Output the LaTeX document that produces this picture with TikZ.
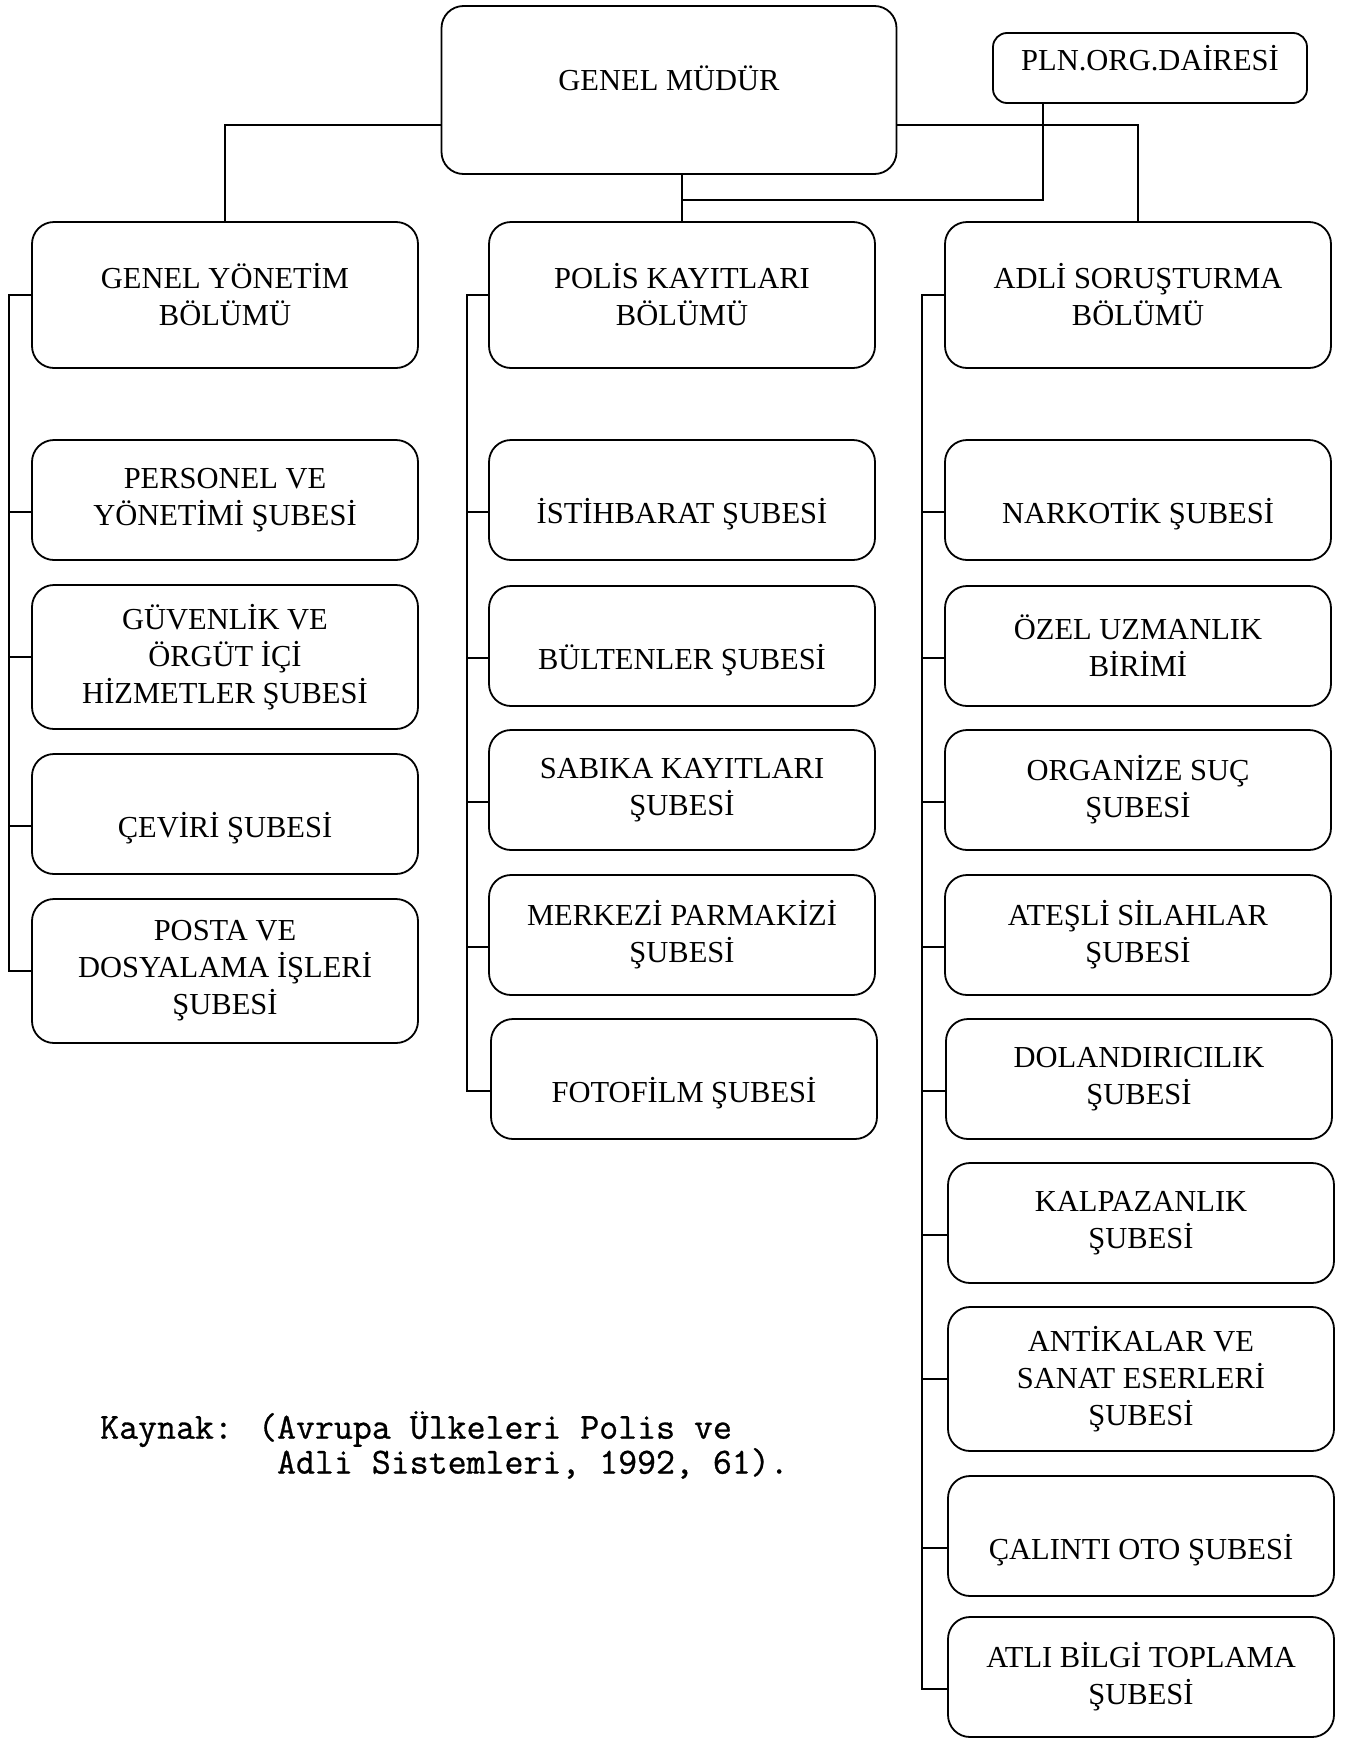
\documentclass[tikz,border=0pt]{standalone}
\usepackage{fontspec}
\setmainfont{Liberation Serif}
\newfontfamily\srcfont{Latin Modern Mono}[FakeBold=0.8]
\newcommand{\boxfont}{\fontsize{30.5}{37}\selectfont}

\begin{document}
\begin{tikzpicture}[x=1pt,y=-1pt,
  box/.style={draw, rounded corners=22pt, line width=1.8pt, align=center,
    inner sep=0pt, font=\boxfont, minimum width=386pt},
  sub/.style={box, minimum height=120pt},
  tall/.style={box, minimum height=144pt},
  low/.style={text height=52pt, text depth=6pt},
  link/.style={line width=1.5pt}]
\useasboundingbox (0,0) rectangle (1347,1740);

% top
\node[box, minimum width=455pt, minimum height=168pt, text height=26pt, text depth=26pt] (gm) at (669,90) {GENEL MÜDÜR};
\node[box, minimum width=314pt, minimum height=70pt, rounded corners=14pt, text height=24pt, text depth=20pt] (pln) at (1150,68) {PLN.ORG.DAİRESİ};

% bolumler
\node[box, minimum height=146pt] (gy) at (225,295) {GENEL YÖNETİM\\BÖLÜMÜ};
\node[box, minimum height=146pt] (pk) at (682,295) {POLİS KAYITLARI\\BÖLÜMÜ};
\node[box, minimum height=146pt] (as) at (1138,295) {ADLİ SORUŞTURMA\\BÖLÜMÜ};

% genel yonetim
\node[sub] (gy1) at (225,500) {PERSONEL VE\\YÖNETİMİ ŞUBESİ};
\node[tall] (gy2) at (225,657) {GÜVENLİK VE\\ÖRGÜT İÇİ\\HİZMETLER ŞUBESİ};
\node[sub, low] (gy3) at (225,814) {ÇEVİRİ ŞUBESİ};
\node[tall] (gy4) at (225,971) {POSTA VE\\DOSYALAMA İŞLERİ\\ŞUBESİ};

% polis kayitlari
\node[sub, low] (pk1) at (682,500) {İSTİHBARAT ŞUBESİ};
\node[sub, low] (pk2) at (682,646) {BÜLTENLER ŞUBESİ};
\node[sub] (pk3) at (682,790) {SABIKA KAYITLARI\\ŞUBESİ};
\node[sub] (pk4) at (682,935) {MERKEZİ PARMAKİZİ\\ŞUBESİ};
\node[sub, low] (pk5) at (684,1079) {FOTOFİLM ŞUBESİ};

% adli sorusturma
\node[sub, low] (as1) at (1138,500) {NARKOTİK ŞUBESİ};
\node[sub] (as2) at (1138,646) {ÖZEL UZMANLIK\\BİRİMİ};
\node[sub] (as3) at (1138,790) {ORGANİZE SUÇ\\ŞUBESİ};
\node[sub] (as4) at (1138,935) {ATEŞLİ SİLAHLAR\\ŞUBESİ};
\node[sub] (as5) at (1139,1079) {DOLANDIRICILIK\\ŞUBESİ};
\node[sub] (as6) at (1141,1223) {KALPAZANLIK\\ŞUBESİ};
\node[tall] (as7) at (1141,1379) {ANTİKALAR VE\\SANAT ESERLERİ\\ŞUBESİ};
\node[sub, low] (as8) at (1141,1536) {ÇALINTI OTO ŞUBESİ};
\node[sub] (as9) at (1141,1677) {ATLI BİLGİ TOPLAMA\\ŞUBESİ};

\coordinate (hl) at (0,125);
\coordinate (pj) at (1043,200);
\coordinate (gybus) at (9,0);
\coordinate (pkbus) at (467,0);
\coordinate (asbus) at (922,0);

\draw[link] (gm.west |- hl) -| (gy.north);
\draw[link] (gm.east |- hl) -| (as.north);
\draw[link] (gm.south -| pk.north) -- (pk.north);
\draw[link] (pln.south -| pj) -- (pj) -- (pj -| pk.north);

% genel yonetim hatti
\draw[link] (gy.west) -| (gybus |- gy4.west) -- (gy4.west);
\draw[link] ([yshift=-12pt]gybus |- gy1.west) -- ([yshift=-12pt]gy1.west);
\draw[link] (gybus |- gy2.west) -- (gy2.west);
\draw[link] ([yshift=-12pt]gybus |- gy3.west) -- ([yshift=-12pt]gy3.west);

% polis kayitlari hatti
\draw[link] (pk.west) -| ([yshift=-12pt]pkbus |- pk5.west) -- ([yshift=-12pt]pk5.west);
\draw[link] ([yshift=-12pt]pkbus |- pk1.west) -- ([yshift=-12pt]pk1.west);
\draw[link] ([yshift=-12pt]pkbus |- pk2.west) -- ([yshift=-12pt]pk2.west);
\draw[link] ([yshift=-12pt]pkbus |- pk3.west) -- ([yshift=-12pt]pk3.west);
\draw[link] ([yshift=-12pt]pkbus |- pk4.west) -- ([yshift=-12pt]pk4.west);

% adli sorusturma hatti
\draw[link] (as.west) -| ([yshift=-12pt]asbus |- as9.west) -- ([yshift=-12pt]as9.west);
\draw[link] ([yshift=-12pt]asbus |- as1.west) -- ([yshift=-12pt]as1.west);
\draw[link] ([yshift=-12pt]asbus |- as2.west) -- ([yshift=-12pt]as2.west);
\draw[link] ([yshift=-12pt]asbus |- as3.west) -- ([yshift=-12pt]as3.west);
\draw[link] ([yshift=-12pt]asbus |- as4.west) -- ([yshift=-12pt]as4.west);
\draw[link] ([yshift=-12pt]asbus |- as5.west) -- ([yshift=-12pt]as5.west);
\draw[link] ([yshift=-12pt]asbus |- as6.west) -- ([yshift=-12pt]as6.west);
\draw[link] (asbus |- as7.west) -- (as7.west);
\draw[link] ([yshift=-12pt]asbus |- as8.west) -- ([yshift=-12pt]as8.west);

% kaynak
\node[font={\srcfont\fontsize{36.8}{32}\selectfont}, align=left, anchor=north west, inner sep=0pt] (src) at (100,1411) {Kaynak: (Avrupa Ülkeleri Polis ve\\\phantom{Kaynak: (}Adli Sistemleri, 1992, 61).};

\end{tikzpicture}
\end{document}
